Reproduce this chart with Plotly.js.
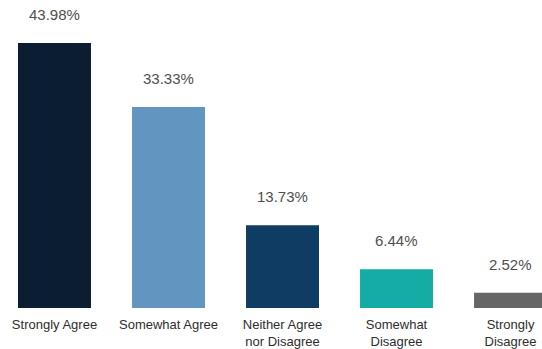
<!DOCTYPE html>
<html>
<head>
<meta charset="utf-8">
<script src="https://cdn.plot.ly/plotly-3.0.1.min.js"></script>
<style>html,body{margin:0;padding:0;background:#fff;}#chart{width:542px;height:349px;}</style>
</head>
<body>
<div id="chart"></div>
<script>
const categories = ["Strongly Agree", "Somewhat Agree", "Neither Agree<br>nor Disagree", "Somewhat<br>Disagree", "Strongly<br>Disagree"];
const values = [43.98, 33.33, 13.73, 6.44, 2.52];
const valueLabels = ["43.98%", "33.33%", "13.73%", "6.44%", "2.52%"];
const barColors = ["#0b1e31", "#6296c1", "#0f3c63", "#14aca4", "#666666"];

const trace = {
  type: "bar",
  x: categories,
  y: values,
  marker: {color: barColors, line: {width: 0}},
  width: 0.64,
  hoverinfo: "none"
};

const annotations = categories.map((c, i) => ({
  x: c, y: values[i], xref: "x", yref: "y",
  text: valueLabels[i], showarrow: false,
  yanchor: "bottom", yshift: 18,
  font: {family: "Liberation Sans, Arial, sans-serif", size: 15, color: "#4f4f4f"}
}));

const layout = {
  width: 542, height: 349,
  margin: {l: 0, r: 0, t: 0, b: 41, pad: 0},
  paper_bgcolor: "#ffffff", plot_bgcolor: "#ffffff",
  showlegend: false,
  xaxis: {
    type: "category",
    range: [-0.478, 4.276],
    showgrid: false, zeroline: false, showline: false,
    ticks: "outside", ticklen: 4, tickcolor: "rgba(0,0,0,0)",
    tickfont: {family: "Liberation Sans, Arial, sans-serif", size: 13, color: "#2e2e2e"},
    fixedrange: true
  },
  yaxis: {
    range: [0, 51.1],
    visible: false,
    showgrid: false, zeroline: false,
    fixedrange: true
  },
  annotations: annotations
};

Plotly.newPlot("chart", [trace], layout, {displayModeBar: false, staticPlot: true});
</script>
</body>
</html>
